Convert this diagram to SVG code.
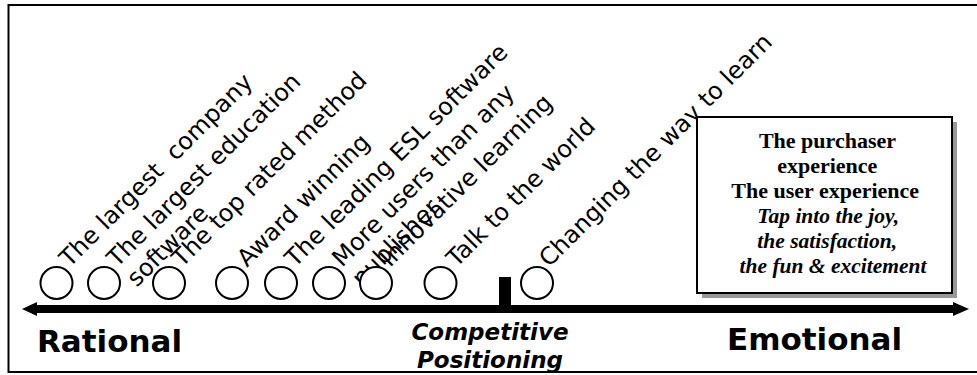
<svg xmlns="http://www.w3.org/2000/svg" width="977" height="375" viewBox="0 0 977 375">
<style>
.frame{fill:none;stroke:#000;stroke-width:2}
.dot{fill:#fff;stroke:#000;stroke-width:2}
.lbl{font-family:"DejaVu Sans",Verdana,sans-serif;font-size:24px;fill:#000}
.axis{font-family:"DejaVu Sans",Verdana,sans-serif;font-weight:bold;font-size:31px;fill:#000}
.mid{font-family:"DejaVu Sans",Verdana,sans-serif;font-weight:bold;font-style:italic;font-size:23px;fill:#000;text-anchor:middle}
.box{font-family:"Liberation Serif","Times New Roman",serif;font-weight:bold;font-size:22px;fill:#000;text-anchor:middle}
.it{font-style:italic;font-size:21.5px}
</style>
<rect width="977" height="375" fill="#fff"/>
<rect class="frame" x="8.5" y="5" width="975" height="367"/>

<g id="connectors">
  <rect x="30" y="305" width="930" height="8" fill="#000"/>
  <polygon points="22,309 37,302 37,316" fill="#000"/>
  <polygon points="969,309 953,302 953,316" fill="#000"/>
  <rect x="499" y="277" width="12" height="30" fill="#000"/>
</g>

<g id="n1"><circle class="dot" cx="56.5" cy="283" r="16"/>
  <text class="lbl" transform="translate(69.5,268) rotate(-45)" xml:space="preserve">The largest  company</text></g>
<g id="n2"><circle class="dot" cx="104" cy="283" r="16"/>
  <text class="lbl" transform="translate(117,268) rotate(-45)"><tspan x="0" y="0">The largest education</tspan><tspan x="0" y="28">software</tspan></text></g>
<g id="n3"><circle class="dot" cx="169" cy="283" r="16"/>
  <text class="lbl" transform="translate(182,268) rotate(-45)">The top rated method</text></g>
<g id="n4"><circle class="dot" cx="232" cy="283" r="16"/>
  <text class="lbl" transform="translate(247,268) rotate(-45)">Award winning</text></g>
<g id="n5"><circle class="dot" cx="281" cy="283" r="16"/>
  <text class="lbl" transform="translate(295,268) rotate(-45)">The leading ESL software</text></g>
<g id="n6"><circle class="dot" cx="329" cy="283" r="16"/>
  <text class="lbl" transform="translate(342,268) rotate(-45)"><tspan x="0" y="0">More users than any</tspan><tspan x="0" y="28">publisher</tspan></text></g>
<g id="n7"><circle class="dot" cx="376" cy="283" r="16"/>
  <text class="lbl" transform="translate(390,268) rotate(-45)">Innovative learning</text></g>
<g id="n8"><circle class="dot" cx="440.5" cy="283" r="16"/>
  <text class="lbl" transform="translate(456.5,268) rotate(-45)">Talk to the world</text></g>
<g id="n9"><circle class="dot" cx="537" cy="283" r="16"/>
  <text class="lbl" transform="translate(549,268) rotate(-45)">Changing the way to learn</text></g>

<g id="emotion-box">
  <rect x="702" y="122" width="255" height="176" fill="#999"/>
  <rect x="697" y="117" width="255" height="176" fill="#fff" stroke="#000" stroke-width="2"/>
  <text class="box">
    <tspan x="830" y="148">The purchaser</tspan>
    <tspan x="830" y="173">experience</tspan>
    <tspan x="828" y="198">The user experience</tspan>
    <tspan class="it" x="831" y="223">Tap into the joy,</tspan>
    <tspan class="it" x="830" y="248">the satisfaction,</tspan>
    <tspan class="it" x="833" y="273">the fun &amp; excitement</tspan>
  </text>
</g>

<g id="axis-labels">
  <text class="axis" x="37" y="352">Rational</text>
  <text class="axis" x="727" y="350">Emotional</text>
  <text class="mid"><tspan x="490" y="340">Competitive</tspan><tspan x="490" y="368">Positioning</tspan></text>
</g>
</svg>
